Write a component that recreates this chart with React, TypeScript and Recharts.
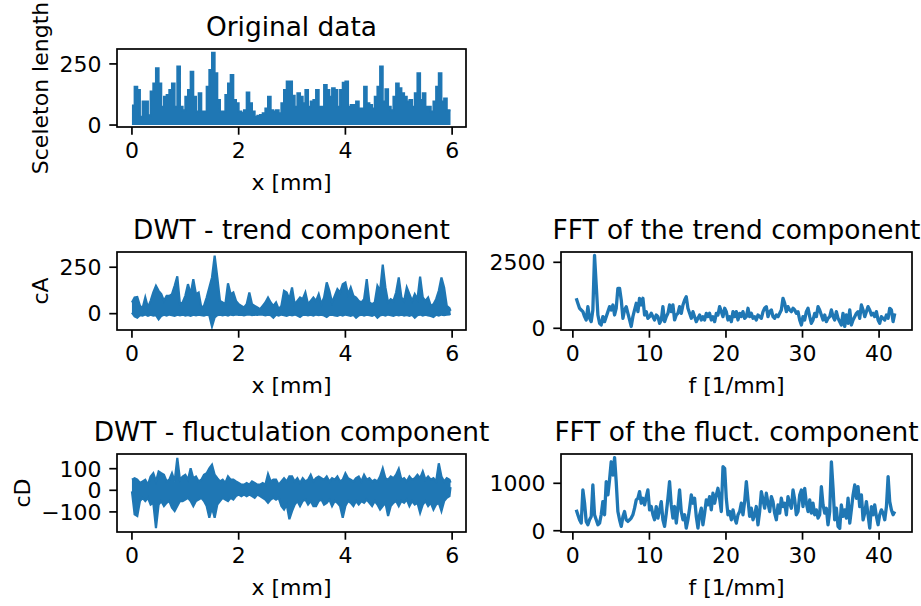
import React from "react";
import { Area, ComposedChart, Line, XAxis, YAxis } from "recharts";

// x positions of the spatial signals [mm]
const gridX = [
  0, 0.05, 0.1, 0.15, 0.2, 0.25, 0.3, 0.35, 0.4, 0.45,
  0.5, 0.55, 0.6, 0.65, 0.7, 0.75, 0.8, 0.85, 0.9, 0.95,
  1, 1.05, 1.1, 1.15, 1.2, 1.25, 1.3, 1.35, 1.4, 1.45,
  1.5, 1.55, 1.6, 1.65, 1.7, 1.75, 1.8, 1.85, 1.9, 1.95,
  2, 2.05, 2.1, 2.15, 2.2, 2.25, 2.3, 2.35, 2.4, 2.45,
  2.5, 2.55, 2.6, 2.65, 2.7, 2.75, 2.8, 2.85, 2.9, 2.95,
  3, 3.05, 3.1, 3.15, 3.2, 3.25, 3.3, 3.35, 3.4, 3.45,
  3.5, 3.55, 3.6, 3.65, 3.7, 3.75, 3.8, 3.85, 3.9, 3.95,
  4, 4.05, 4.1, 4.15, 4.2, 4.25, 4.3, 4.35, 4.4, 4.45,
  4.5, 4.55, 4.6, 4.65, 4.7, 4.75, 4.8, 4.85, 4.9, 4.95,
  5, 5.05, 5.1, 5.15, 5.2, 5.25, 5.3, 5.35, 5.4, 5.45,
  5.5, 5.55, 5.6, 5.65, 5.7, 5.75, 5.8, 5.85, 5.9, 5.95,
  5.97,
];

// skeleton length (upper envelope of the dense signal)
const origY = [
  80, 157, 143, 34, 96, 96, 40, 137, 170, 232,
  170, 75, 116, 123, 143, 170, 75, 239, 75, 61,
  116, 143, 218, 116, 55, 130, 55, 55, 157, 225,
  296, 212, 102, 55, 55, 123, 170, 205, 102, 89,
  55, 50, 61, 133, 89, 55, 34, 38, 41, 48,
  68, 116, 61, 55, 61, 48, 89, 143, 178, 178,
  120, 75, 130, 116, 89, 143, 75, 96, 102, 143,
  75, 75, 164, 143, 116, 150, 143, 75, 143, 173,
  178, 75, 82, 82, 96, 68, 68, 157, 89, 82,
  68, 116, 157, 239, 96, 146, 75, 61, 116, 170,
  150, 130, 116, 96, 102, 75, 130, 212, 102, 130,
  75, 75, 55, 96, 157, 212, 96, 109, 61, 61,
  61,
];

// cA envelope
const cAHigh = [
  60, 87, 90, 42, 30, 87, 33, 69, 114, 150,
  123, 105, 69, 96, 96, 105, 150, 201, 51, 60,
  96, 159, 105, 186, 105, 114, 33, 42, 87, 141,
  195, 313, 195, 69, 60, 51, 163, 105, 114, 69,
  51, 42, 33, 51, 114, 51, 42, 33, 24, 42,
  60, 87, 60, 42, 60, 24, 42, 123, 114, 78,
  141, 51, 69, 87, 78, 114, 51, 69, 87, 69,
  105, 51, 87, 168, 123, 60, 96, 132, 114, 159,
  168, 105, 141, 96, 87, 69, 60, 78, 186, 60,
  51, 60, 150, 123, 264, 141, 60, 78, 69, 114,
  195, 87, 69, 141, 105, 69, 105, 78, 199, 87,
  69, 87, 42, 51, 78, 123, 195, 141, 42, 30,
  15,
];
const cALow = [
  5, -15, -22, -8, -10, -5, -12, -6, -10, -8,
  -31, -12, -6, -10, -5, -8, -12, -6, -9, -5,
  -10, -7, -12, -6, -9, -5, -8, -11, -6, -10,
  -69, -20, -8, -5, -9, -6, -10, -5, -8, -4,
  -7, -5, -9, -6, -4, -8, -5, -7, -4, -6,
  -9, -5, -8, -22, -6, -10, -5, -8, -12, -6,
  -9, -5, -10, -18, -7, -5, -9, -6, -10, -5,
  -8, -6, -10, -18, -7, -5, -9, -12, -6, -10,
  -5, -8, -12, -6, -22, -9, -5, -10, -6, -8,
  -12, -5, -22, -9, -6, -10, -5, -8, -12, -6,
  -9, -5, -10, -7, -12, -6, -22, -8, -5, -10,
  -6, -9, -12, -18, -6, -10, -5, -8, -6, -4,
  0,
];

// cD envelope
const cDHigh = [
  49, 56, 49, 34, 41, 49, 26, 64, 79, 41,
  87, 79, 72, 41, 49, 79, 41, 150, 49, 64,
  72, 49, 102, 56, 64, 41, 49, 72, 79, 102,
  118, 72, 56, 41, 49, 34, 64, 49, 49, 41,
  34, 26, 26, 34, 26, 41, 34, 26, 26, 34,
  26, 75, 41, 49, 49, 26, 41, 56, 41, 64,
  64, 41, 56, 34, 56, 41, 49, 72, 41, 56,
  64, 56, 49, 64, 41, 56, 49, 64, 41, 49,
  79, 56, 49, 41, 56, 64, 41, 72, 49, 56,
  41, 49, 41, 64, 102, 56, 49, 64, 56, 72,
  99, 49, 56, 41, 64, 49, 56, 72, 56, 87,
  49, 64, 49, 56, 41, 125, 64, 41, 56, 49,
  35,
];
const cDLow = [
  -5, -111, -119, -50, -35, -50, -35, -66, -58, -175,
  -66, -50, -73, -58, -50, -81, -96, -73, -50, -50,
  -43, -35, -50, -73, -50, -43, -35, -50, -73, -127,
  -81, -127, -66, -50, -35, -43, -50, -35, -43, -27,
  -20, -27, -20, -27, -20, -27, -35, -20, -27, -35,
  -43, -58, -43, -35, -43, -35, -73, -89, -66, -134,
  -96, -66, -50, -73, -50, -43, -66, -50, -73, -73,
  -50, -43, -66, -58, -43, -73, -50, -58, -73, -127,
  -73, -50, -58, -73, -50, -66, -50, -58, -43, -58,
  -73, -50, -66, -89, -73, -58, -119, -73, -58, -50,
  -73, -50, -58, -43, -73, -50, -66, -58, -104, -66,
  -50, -73, -58, -89, -66, -58, -96, -50, -35, -27,
  15,
];

// frequency bins [1/mm]
const fftFreq = [
  0.44, 0.65, 0.87, 1.09, 1.31, 1.53, 1.74, 1.96, 2.18, 2.4, 2.61, 2.83, 3.05, 3.27, 3.49, 3.7, 3.92, 4.14, 4.36, 4.58, 4.79, 5.01, 5.23,
  5.45, 5.66, 5.88, 6.1, 6.32, 6.54, 6.75, 6.97, 7.19, 7.41, 7.62, 7.84, 8.06, 8.28, 8.5, 8.71, 8.93, 9.15, 9.37, 9.59, 9.8, 10.02, 10.24,
  10.46, 10.67, 10.89, 11.11, 11.33, 11.55, 11.76, 11.98, 12.2, 12.42, 12.63, 12.85, 13.07, 13.29, 13.51, 13.72, 13.94, 14.16, 14.38, 14.6, 14.81, 15.03, 15.25,
  15.47, 15.69, 15.9, 16.12, 16.34, 16.56, 16.78, 16.99, 17.21, 17.43, 17.65, 17.86, 18.08, 18.3, 18.52, 18.74, 18.95, 19.17, 19.39, 19.61, 19.83, 20.04, 20.26,
  20.48, 20.7, 20.92, 21.13, 21.35, 21.57, 21.79, 22.0, 22.22, 22.44, 22.66, 22.88, 23.09, 23.31, 23.53, 23.75, 23.96, 24.18, 24.4, 24.62, 24.84, 25.05, 25.27,
  25.49, 25.71, 25.93, 26.14, 26.36, 26.58, 26.8, 27.02, 27.23, 27.45, 27.67, 27.89, 28.1, 28.32, 28.54, 28.76, 28.98, 29.19, 29.41, 29.63, 29.85, 30.06, 30.28,
  30.5, 30.72, 30.94, 31.15, 31.37, 31.59, 31.81, 32.03, 32.24, 32.46, 32.68, 32.9, 33.11, 33.33, 33.55, 33.77, 33.99, 34.2, 34.42, 34.64, 34.86, 35.07, 35.29,
  35.51, 35.73, 35.95, 36.17, 36.38, 36.6, 36.82, 37.04, 37.25, 37.47, 37.69, 37.91, 38.13, 38.34, 38.56, 38.78, 39.0, 39.21, 39.43, 39.65, 39.87, 40.08, 40.3,
  40.52, 40.74, 40.96, 41.18, 41.39, 41.61, 41.83, 42.05,
];

const fftTrend = [
  1137, 947, 758, 695, 631, 442, 316, 821, 379, 253, 695, 2760, 1642, 505, 190, 126, 442, 253, 442, 631, 821, 695, 884,
  505, 758, 1516, 1516, 1074, 379, 695, 821, 568, 316, 70, 442, 695, 947, 631, 1137, 884, 1137, 505, 631, 379, 442, 568,
  442, 316, 505, 442, 190, 316, 821, 253, 442, 568, 884, 631, 884, 316, 505, 568, 821, 568, 884, 1074, 1200, 758, 568,
  379, 631, 442, 253, 379, 505, 316, 442, 316, 568, 442, 568, 316, 442, 253, 568, 505, 821, 631, 442, 758, 631, 316,
  442, 253, 631, 442, 631, 316, 568, 442, 631, 379, 442, 758, 442, 568, 379, 442, 316, 505, 442, 379, 631, 758, 821,
  442, 631, 695, 442, 379, 505, 442, 568, 695, 1137, 947, 631, 821, 695, 631, 758, 695, 568, 631, 316, 126, 442, 316,
  631, 758, 442, 190, 316, 568, 442, 821, 695, 505, 316, 505, 253, 379, 442, 695, 442, 316, 631, 379, 253, 126, 568,
  70, 505, 190, 695, 126, 316, 442, 568, 631, 379, 884, 695, 442, 631, 821, 695, 505, 568, 442, 631, 316, 190, 442,
  379, 316, 505, 379, 758, 695, 253, 568,
];

const fftFluct = [
  440, 336, 231, 161, 860, 580, 196, 126, 231, 301, 965, 336, 231, 126, 161, 336, 615, 336, 1035, 755, 1070, 1454, 1174,
  1540, 1035, 405, 231, 91, 301, 405, 231, 196, 231, 266, 336, 475, 650, 685, 825, 580, 685, 545, 720, 860, 440, 510,
  336, 231, 510, 266, 440, 615, 231, 91, 370, 685, 1035, 545, 266, 510, 161, 475, 860, 405, 231, 336, 56, 231, 475,
  755, 580, 685, 301, 56, 336, 475, 126, 370, 650, 545, 720, 440, 790, 580, 755, 895, 685, 405, 1349, 1314, 685, 336,
  405, 231, 440, 266, 161, 336, 405, 580, 336, 615, 1035, 650, 301, 475, 231, 336, 510, 126, 405, 825, 650, 475, 790,
  580, 405, 720, 615, 370, 231, 545, 370, 685, 510, 580, 336, 720, 580, 475, 860, 650, 336, 405, 755, 860, 510, 895,
  580, 405, 650, 370, 580, 336, 440, 266, 336, 930, 545, 370, 475, 126, 405, 1454, 895, 231, 475, 91, 50, 545, 301,
  440, 266, 685, 161, 440, 755, 965, 685, 930, 510, 755, 231, 370, 615, 336, 56, 510, 336, 545, 301, 126, 336, 440,
  370, 231, 510, 1140, 615, 440, 336, 405,
];

const xTicksMm = [0, 2, 4, 6];
const xTicksFreq = [0, 10, 20, 30, 40];

const BLUE = "#1f77b4";
const FONT = "'DejaVu Sans', sans-serif";
const AXW = 80;
const AXH = 40;
const PAD = 3;
const TICK = 7.7;

type Box = { left: number; top: number; width: number; height: number };

const boxes: Record<string, Box> = {
  orig: { left: 117, top: 49, width: 349, height: 78 },
  cA: { left: 117, top: 252, width: 349, height: 78 },
  cD: { left: 117, top: 454, width: 349, height: 78 },
  fA: { left: 561, top: 252, width: 351, height: 78 },
  fD: { left: 561, top: 454, width: 351, height: 78 },
};

const tickStyle = { fontSize: 22, fill: "#000", fontFamily: FONT };
const tickLine = { stroke: "#000", strokeWidth: 1.7 };
const fmt = (v: number) => (v < 0 ? `\u2212${Math.abs(v)}` : String(v));

function Subplot({ box, data, xDomain, xTicks, yDomain, yTicks, children }: any) {
  return (
    <div style={{ position: "absolute", left: box.left - AXW, top: box.top - PAD }}>
      <ComposedChart
        width={AXW + box.width + PAD}
        height={PAD + box.height + AXH}
        data={data}
        margin={{ top: PAD, right: PAD, left: 0, bottom: 0 }}
      >
        <XAxis
          dataKey="x"
          type="number"
          domain={xDomain}
          ticks={xTicks}
          allowDataOverflow
          interval={0}
          height={AXH}
          axisLine={false}
          tickSize={TICK}
          tickMargin={TICK}
          tick={tickStyle}
          tickLine={tickLine}
        />
        <YAxis
          type="number"
          domain={yDomain}
          ticks={yTicks}
          allowDataOverflow
          interval={0}
          width={AXW}
          axisLine={false}
          tickSize={TICK}
          tickMargin={TICK}
          tick={tickStyle}
          tickLine={tickLine}
          tickFormatter={fmt}
        />
        {children}
      </ComposedChart>
    </div>
  );
}

const origRows = gridX.map((x, i) => ({ x, y: origY[i] }));
const cARows = gridX.map((x, i) => ({ x, band: [cALow[i], cAHigh[i]] }));
const cDRows = gridX.map((x, i) => ({ x, band: [cDLow[i], cDHigh[i]] }));
const fARows = fftFreq.map((x, i) => ({ x, v: fftTrend[i] }));
const fDRows = fftFreq.map((x, i) => ({ x, v: fftFluct[i] }));

const titles = [
  { text: "Original data", box: boxes.orig },
  { text: "DWT - trend component", box: boxes.cA },
  { text: "DWT - fluctulation component", box: boxes.cD },
  { text: "FFT of the trend component", box: boxes.fA },
  { text: "FFT of the fluct. component", box: boxes.fD },
];
const xLabels = [
  { text: "x [mm]", box: boxes.orig },
  { text: "x [mm]", box: boxes.cA },
  { text: "x [mm]", box: boxes.cD },
  { text: "f [1/mm]", box: boxes.fA },
  { text: "f [1/mm]", box: boxes.fD },
];
const yLabels = [
  { text: "Sceleton length", x: 40, box: boxes.orig },
  { text: "cA", x: 40, box: boxes.cA },
  { text: "cD", x: 22, box: boxes.cD },
];

export default function App() {
  return (
    <div style={{ position: "absolute", left: 0, top: 0, width: 921, height: 606, background: "#fff", fontFamily: FONT }}>
      <Subplot box={boxes.orig} data={origRows} xDomain={[-0.28, 6.26]} xTicks={xTicksMm} yDomain={[-8, 311]} yTicks={[0, 250]}>
        <Area dataKey="y" type="stepAfter" baseValue={0} stroke={BLUE} strokeWidth={2} fill={BLUE} fillOpacity={1} isAnimationActive={false} />
      </Subplot>
      <Subplot box={boxes.cA} data={cARows} xDomain={[-0.28, 6.26]} xTicks={xTicksMm} yDomain={[-88, 332]} yTicks={[0, 250]}>
        <Area dataKey="band" type="linear" stroke={BLUE} strokeWidth={2.2} fill={BLUE} fillOpacity={1} isAnimationActive={false} />
      </Subplot>
      <Subplot box={boxes.cD} data={cDRows} xDomain={[-0.28, 6.26]} xTicks={xTicksMm} yDomain={[-193, 168]} yTicks={[-100, 0, 100]}>
        <Area dataKey="band" type="linear" stroke={BLUE} strokeWidth={2.2} fill={BLUE} fillOpacity={1} isAnimationActive={false} />
      </Subplot>
      <Subplot box={boxes.fA} data={fARows} xDomain={[-1.55, 44.3]} xTicks={xTicksFreq} yDomain={[-64, 2890]} yTicks={[0, 2500]}>
        <Line dataKey="v" type="linear" stroke={BLUE} strokeWidth={3.3} strokeLinejoin="round" dot={false} isAnimationActive={false} />
      </Subplot>
      <Subplot box={boxes.fD} data={fDRows} xDomain={[-1.55, 44.3]} xTicks={xTicksFreq} yDomain={[-27, 1618]} yTicks={[0, 1000]}>
        <Line dataKey="v" type="linear" stroke={BLUE} strokeWidth={3.3} strokeLinejoin="round" dot={false} isAnimationActive={false} />
      </Subplot>
      <svg width={921} height={606} style={{ position: "absolute", left: 0, top: 0, pointerEvents: "none" }}>
        {Object.values(boxes).map((b, i) => (
          <rect key={i} x={b.left} y={b.top} width={b.width} height={b.height} fill="none" stroke="#000" strokeWidth={1.7} />
        ))}
        {titles.map((t, i) => (
          <text key={i} x={t.box.left + t.box.width / 2} y={t.box.top - 13.2} textAnchor="middle" fontSize={26.4} fontFamily={FONT} fill="#000">
            {t.text}
          </text>
        ))}
        {xLabels.map((t, i) => (
          <text key={i} x={t.box.left + t.box.width / 2} y={t.box.top + t.box.height + 63} textAnchor="middle" fontSize={22} fontFamily={FONT} fill="#000">
            {t.text}
          </text>
        ))}
        {yLabels.map((t, i) => {
          const cy = t.box.top + t.box.height / 2;
          return (
            <text key={i} x={t.x} y={cy} textAnchor="middle" dominantBaseline="central" transform={`rotate(-90 ${t.x} ${cy})`} fontSize={22} fontFamily={FONT} fill="#000">
              {t.text}
            </text>
          );
        })}
      </svg>
    </div>
  );
}
